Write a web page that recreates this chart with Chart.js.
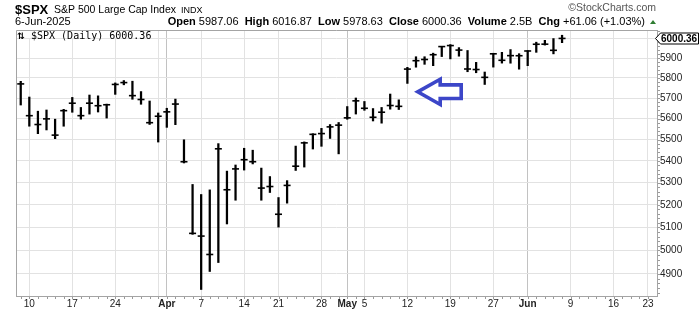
<!DOCTYPE html>
<html>
<head>
<meta charset="utf-8">
<title>$SPX daily</title>
<script src="https://cdn.jsdelivr.net/npm/chart.js@4.4.1/dist/chart.umd.min.js"></script>
<style>
  html, body { margin: 0; padding: 0; background: #fff; }
  #wrap { width: 700px; height: 312px; }
</style>
</head>
<body>
<div id="wrap"><canvas id="spx" width="700" height="312"></canvas></div>
<script>
// --- DATA (7-Mar-2025 .. 6-Jun-2025, one entry per trading day) ---
const dates = [
  '7-Mar', '10-Mar', '11-Mar', '12-Mar', '13-Mar', '14-Mar', '17-Mar', '18-Mar', '19-Mar', '20-Mar', '21-Mar',
  '24-Mar', '25-Mar', '26-Mar', '27-Mar', '28-Mar', '31-Mar', '1-Apr', '2-Apr', '3-Apr', '4-Apr',
  '7-Apr', '8-Apr', '9-Apr', '10-Apr', '11-Apr', '14-Apr', '15-Apr', '16-Apr', '17-Apr',
  '21-Apr', '22-Apr', '23-Apr', '24-Apr', '25-Apr', '28-Apr', '29-Apr', '30-Apr', '1-May', '2-May',
  '5-May', '6-May', '7-May', '8-May', '9-May', '12-May', '13-May', '14-May', '15-May', '16-May',
  '19-May', '20-May', '21-May', '22-May', '23-May', '27-May', '28-May', '29-May', '30-May',
  '2-Jun', '3-Jun', '4-Jun', '5-Jun', '6-Jun'
];
const highs = [
  5783.0, 5705.4, 5636.3, 5642.2, 5597.8, 5645.3, 5703.5, 5654.5, 5715.3, 5711.2, 5670.8,
  5775.1, 5786.9, 5783.6, 5732.3, 5685.9, 5627.6, 5650.6, 5695.3, 5499.5, 5292.1,
  5246.6, 5267.5, 5481.3, 5353.2, 5381.5, 5459.5, 5450.4, 5367.2, 5328.3,
  5232.9, 5309.6, 5469.7, 5489.4, 5528.1, 5553.7, 5571.9, 5581.8, 5658.9, 5700.7,
  5683.6, 5649.2, 5654.5, 5720.1, 5691.7, 5853.1, 5906.6, 5906.6, 5924.8, 5958.6,
  5968.6, 5953.1, 5938.4, 5878.1, 5829.5, 5924.3, 5929.0, 5943.1, 5922.1,
  5937.4, 5981.0, 5990.5, 5999.7, 6016.9
];
const lows = [
  5666.3, 5564.0, 5528.4, 5546.1, 5504.7, 5563.9, 5631.1, 5597.8, 5622.2, 5632.3, 5603.1,
  5718.5, 5765.7, 5694.4, 5670.0, 5572.4, 5488.7, 5558.5, 5571.5, 5390.8, 5069.9,
  4835.0, 4910.4, 4948.4, 5115.3, 5220.8, 5358.0, 5386.4, 5220.8, 5255.6,
  5101.6, 5207.7, 5356.2, 5371.9, 5455.9, 5468.6, 5505.7, 5433.2, 5597.4, 5622.5,
  5640.6, 5589.1, 5578.6, 5646.1, 5644.5, 5772.6, 5853.7, 5868.2, 5861.3, 5907.4,
  5895.7, 5909.3, 5830.9, 5825.8, 5767.4, 5854.1, 5874.3, 5873.8, 5843.7,
  5861.4, 5929.0, 5966.1, 5921.2, 5978.6
];
const closes = [
  5770.2, 5614.6, 5572.1, 5599.3, 5521.5, 5638.9, 5675.1, 5614.7, 5675.3, 5662.9, 5667.6,
  5767.6, 5776.7, 5712.2, 5693.3, 5580.9, 5611.9, 5633.1, 5671.0, 5396.5, 5074.1,
  5062.3, 4982.8, 5456.9, 5268.1, 5363.4, 5406.0, 5396.6, 5275.7, 5282.7,
  5158.2, 5287.8, 5375.9, 5484.8, 5525.2, 5528.8, 5560.8, 5569.1, 5604.1, 5686.7,
  5650.4, 5606.9, 5631.3, 5663.9, 5659.9, 5844.2, 5886.6, 5892.6, 5916.9, 5958.4,
  5963.6, 5940.5, 5844.6, 5842.0, 5802.8, 5921.5, 5888.6, 5912.2, 5911.7,
  5935.9, 5970.4, 5970.8, 5939.3, 6000.4
];

// x ticks: trading-day positions (weeks run past the last bar into June)
const tickPos  = [1, 6, 11, 16, 17, 21, 26, 30, 35, 38, 40, 45, 50, 55, 59, 64, 69, 73];
const tickText = ['10', '17', '24', '', 'Apr', '7', '14', '21', '28', 'May', '5', '12', '19', '27', 'Jun', '9', '16', '23'];
const monthTicks = [17, 38, 59];
const priceTicks = [4900, 5000, 5100, 5200, 5300, 5400, 5500, 5600, 5700, 5800, 5900, 6000];

const quoteLabels = ['Open', 'High', 'Low', 'Close', 'Volume', 'Chg'];
const quoteValues = ['5987.06', '6016.87', '5978.63', '6000.36', '2.5B', '+61.06 (+1.03%)'];
const lastClose = '6000.36';
const arrowAt = { x: 46.2, y: 5731 };   // tip of the blue annotation arrow

const FONT = '"Liberation Sans", Arial, sans-serif';

// --- DECORATION: header, legend, arrow, price tag, minor ticks ---
const decor = {
  id: 'decor',
  afterDatasetsDraw(chart) {
    const { ctx, chartArea: a, scales: { x, y } } = chart;
    ctx.save();

    // legend box top-left
    ctx.fillStyle = '#fff';
    ctx.fillRect(a.left + 1, a.top + 1, 134, 7);
    ctx.fillStyle = '#000';
    ctx.textBaseline = 'alphabetic';
    ctx.font = 'bold 9px "DejaVu Sans"';
    ctx.fillText('⇅', a.left + 1, a.top + 8.5);
    ctx.font = '10px "DejaVu Sans Mono", monospace';
    ctx.fillText('$SPX (Daily) 6000.36', a.left + 15, a.top + 8.5);

    // blue arrow pointing left
    const tx = x.getPixelForValue(arrowAt.x);
    const ty = y.getPixelForValue(arrowAt.y);
    ctx.beginPath();
    ctx.moveTo(tx, ty);
    ctx.lineTo(tx + 22.5, ty - 12.6);
    ctx.lineTo(tx + 22.5, ty - 7);
    ctx.lineTo(tx + 43.5, ty - 7);
    ctx.lineTo(tx + 43.5, ty + 6.7);
    ctx.lineTo(tx + 22.5, ty + 6.7);
    ctx.lineTo(tx + 22.5, ty + 12.7);
    ctx.closePath();
    ctx.fillStyle = '#fff';
    ctx.fill();
    ctx.lineWidth = 3.6;
    ctx.lineJoin = 'miter';
    ctx.strokeStyle = '#3c46c8';
    ctx.stroke();
    ctx.restore();
  },
  afterDraw(chart) {
    const { ctx, chartArea: a, scales: { x, y } } = chart;
    ctx.save();

    // top and left frame
    ctx.strokeStyle = '#a4a4a4';
    ctx.lineWidth = 1;
    ctx.beginPath();
    ctx.moveTo(a.left + 0.5, a.bottom);
    ctx.lineTo(a.left + 0.5, a.top + 0.5);
    ctx.lineTo(a.right, a.top + 0.5);
    ctx.stroke();

    // minor ticks: every trading day below, every 20 points on the right
    ctx.strokeStyle = '#9a9a9a';
    ctx.beginPath();
    for (let i = 0; i <= 73; i++) {
      const px = Math.round(x.getPixelForValue(i)) + 0.5;
      ctx.moveTo(px, a.bottom + 1);
      ctx.lineTo(px, a.bottom + 3);
    }
    for (let v = 4820; v <= 6040; v += 20) {
      const py = Math.round(y.getPixelForValue(v)) + 0.5;
      ctx.moveTo(a.right + 1, py);
      ctx.lineTo(a.right + 3, py);
    }
    ctx.stroke();

    // header line 1
    ctx.fillStyle = '#000';
    ctx.textBaseline = 'alphabetic';
    ctx.textAlign = 'left';
    ctx.font = 'bold 13px ' + FONT;
    ctx.fillText('$SPX', 15, 13.5);
    ctx.font = '10.5px ' + FONT;
    const nameW = ctx.measureText('S&P 500 Large Cap Index').width;
    ctx.fillText('S&P 500 Large Cap Index', 54, 13);
    ctx.font = '9px ' + FONT;
    ctx.fillText('INDX', 54 + nameW + 5, 13);

    ctx.fillStyle = '#555';
    ctx.font = '10.5px ' + FONT;
    ctx.textAlign = 'right';
    ctx.fillText('©StockCharts.com', 656, 11);

    // header line 2
    ctx.textAlign = 'left';
    ctx.fillStyle = '#000';
    ctx.font = '11px ' + FONT;
    ctx.fillText('6-Jun-2025', 15, 25);

    const parts = [];
    quoteLabels.forEach((l, i) => {
      parts.push({ t: l, b: true });
      parts.push({ t: ' ' + quoteValues[i] + (i < quoteLabels.length - 1 ? '  ' : ' '), b: false });
    });
    let w = 0;
    parts.forEach(p => {
      ctx.font = (p.b ? 'bold ' : '') + '11px ' + FONT;
      p.w = ctx.measureText(p.t).width;
      w += p.w;
    });
    let cx = 648 - w;
    parts.forEach(p => {
      ctx.font = (p.b ? 'bold ' : '') + '11px ' + FONT;
      ctx.fillText(p.t, cx, 25);
      cx += p.w;
    });
    ctx.fillStyle = '#2e7d32';
    ctx.beginPath();
    ctx.moveTo(650, 24);
    ctx.lineTo(656, 24);
    ctx.lineTo(653, 20);
    ctx.closePath();
    ctx.fill();

    // last price tag on the right axis
    const cy = Math.round(y.getPixelForValue(closes[closes.length - 1])) + 0.5;
    ctx.beginPath();
    ctx.moveTo(a.right - 1.5, cy);
    ctx.lineTo(a.right + 3.5, cy - 5.5);
    ctx.lineTo(698.5, cy - 5.5);
    ctx.lineTo(698.5, cy + 5.5);
    ctx.lineTo(a.right + 3.5, cy + 5.5);
    ctx.closePath();
    ctx.fillStyle = '#fff';
    ctx.fill();
    ctx.strokeStyle = '#000';
    ctx.lineWidth = 1;
    ctx.stroke();
    ctx.fillStyle = '#000';
    ctx.font = 'bold 10px ' + FONT;
    ctx.textBaseline = 'middle';
    ctx.fillText(lastClose, a.right + 4, cy + 0.5);
    ctx.restore();
  }
};

// --- CHART ---
const ctx = document.getElementById('spx').getContext('2d');
new Chart(ctx, {
  type: 'bar',
  data: {
    datasets: [
      {
        type: 'bar',
        data: dates.map((d, i) => ({ x: i, y: [lows[i], highs[i]] })),
        backgroundColor: '#000',
        borderWidth: 0,
        barThickness: 1.6,
        grouped: false,
        order: 2
      },
      {
        type: 'scatter',
        data: dates.map((d, i) => ({ x: i, y: closes[i] })),
        pointStyle: 'line',
        pointRadius: 3.5,
        borderColor: '#000',
        borderWidth: 1.6,
        order: 1
      }
    ]
  },
  options: {
    responsive: false,
    animation: false,
    events: [],
    layout: { padding: { top: 30, left: 16, right: 0, bottom: 0 } },
    plugins: { legend: { display: false }, tooltip: { enabled: false } },
    scales: {
      x: {
        type: 'linear',
        offset: false,
        min: -0.55,
        max: 74.05,
        afterBuildTicks: s => { s.ticks = tickPos.map(v => ({ value: v })); },
        afterFit: s => { s.height = 16; },
        ticks: {
          autoSkip: false,
          maxRotation: 0,
          padding: 2,
          color: '#222',
          font: c => ({
            family: FONT, size: 10,
            weight: c.tick && monthTicks.includes(c.tick.value) ? 'bold' : 'normal'
          }),
          callback: (v, i) => tickText[i]
        },
        grid: {
          offset: false,
          drawTicks: false,
          color: c => (c.tick && monthTicks.includes(c.tick.value) ? '#c2c2c2' : '#e2e2e2')
        },
        border: { color: '#a4a4a4' }
      },
      y: {
        type: 'logarithmic',
        position: 'right',
        min: 4808,
        max: 6044,
        afterBuildTicks: s => { s.ticks = priceTicks.map(v => ({ value: v })); },
        afterFit: s => { s.width = 43; },
        ticks: {
          autoSkip: false,
          padding: 3,
          color: '#222',
          font: { family: FONT, size: 10 },
          callback: v => (v === 6000 ? '' : String(v))
        },
        grid: { drawTicks: false, color: '#e2e2e2' },
        border: { color: '#a4a4a4' }
      }
    }
  },
  plugins: [decor]
});
</script>
</body>
</html>
